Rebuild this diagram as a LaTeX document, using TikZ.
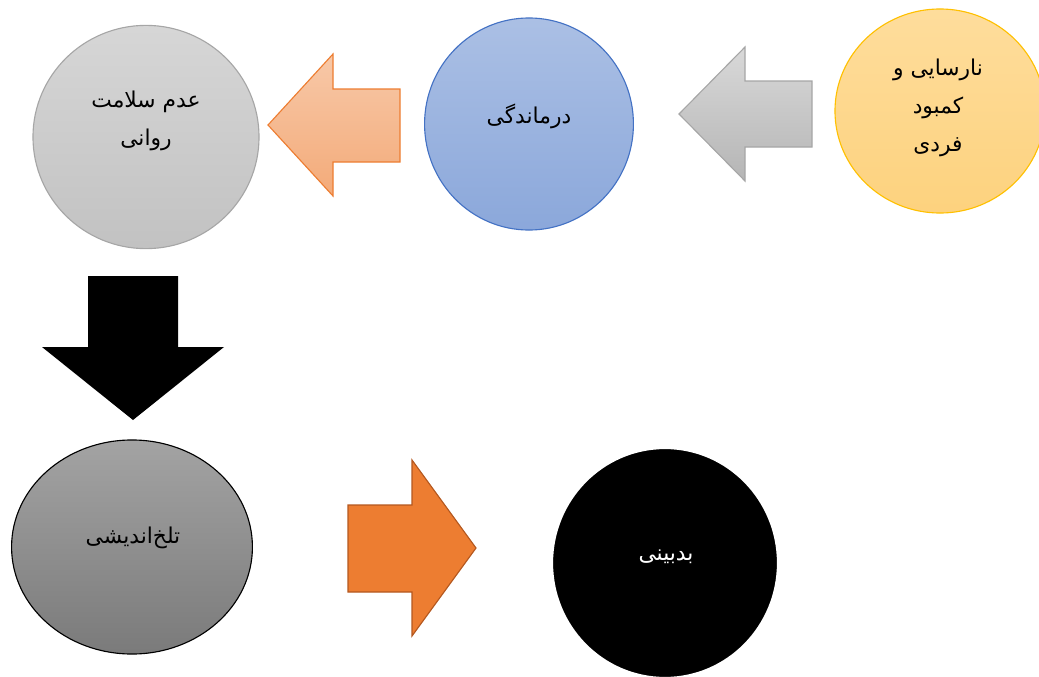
\documentclass[tikz,border=0pt]{standalone}
\usepackage{fontspec}
\newfontfamily\arabicfont[Script=Arabic]{DejaVu Sans}
\TeXXeTstate=1
\usetikzlibrary{shapes.geometric}

\definecolor{khakestari}{HTML}{A6A6A6}
\definecolor{abi}{HTML}{4472C4}
\definecolor{zard}{HTML}{FFC000}
\definecolor{zardbala}{HTML}{FEDD9C}
\definecolor{zardpayin}{HTML}{FDD27E}
\definecolor{narenji}{HTML}{ED7D31}
\definecolor{narenjitire}{HTML}{B4581F}

\begin{document}
\begin{tikzpicture}[x=0.025cm, y=-0.025cm,
  dayere/.style={ellipse, draw, line width=0.8pt, inner sep=0pt},
  matn/.style={font=\arabicfont\fontsize{15.5}{27}\selectfont, align=center, inner sep=0pt},
  felesh/.style={line width=0.8pt, line join=miter}]
  \useasboundingbox (0,0) rectangle (1039,677);

  % Dayere-ha
  \node[dayere, draw=khakestari, top color=black!16, bottom color=black!24,
        minimum width=5.65cm, minimum height=5.58cm] (salamat) at (146,137) {};
  \node[dayere, draw=abi, top color=abi!45, bottom color=abi!62,
        minimum width=5.22cm, minimum height=5.3cm] (darmandegi) at (529,124) {};
  \node[dayere, draw=zard, top color=zardbala, bottom color=zardpayin,
        minimum width=5.25cm, minimum height=5.1cm] (narasayi) at (940,111) {};
  \node[dayere, draw=black, top color=black!36, bottom color=black!52,
        minimum width=6.02cm, minimum height=5.35cm] (talkh) at (132,547) {};
  \node[dayere, draw=white, fill=black, line width=1.6pt,
        minimum width=5.65cm, minimum height=5.75cm] (badbini) at (665,563) {};

  % Matn-ha
  \node[matn] (t-salamat) at (146,121) {\beginR عدم سلامت\endR\\\beginR روانی\endR};
  \node[matn] (t-darmandegi) at (529,116) {\beginR درماندگی\endR};
  \node[matn] (t-narasayi) at (938,108) {\beginR نارسایی و\endR\\\beginR کمبود\endR\\\beginR فردی\endR};
  \node[matn] (t-talkh) at (133,538) {\beginR تلخ‌اندیشی\endR};
  \node[matn, text=white] (t-badbini) at (666,557) {\beginR بدبینی\endR};

  % Felesh-ha
  \draw[felesh, draw=narenji, top color=narenji!42, bottom color=narenji!65]
    (268,125) -- (333,54) -- (333,89) -- (400,89) -- (400,162) -- (333,162) -- (333,196) -- cycle;
  \draw[felesh, draw=khakestari, top color=black!15, bottom color=black!29]
    (679,114) -- (745,47) -- (745,81) -- (812,81) -- (812,147) -- (745,147) -- (745,181) -- cycle;
  \fill (88,276) -- (178,276) -- (178,347) -- (224,347) -- (133,420) -- (42,347) -- (88,347) -- cycle;
  \draw[felesh, draw=narenjitire, fill=narenji]
    (348,505) -- (412,505) -- (412,460) -- (476,548) -- (412,636) -- (412,592) -- (348,592) -- cycle;
\end{tikzpicture}
\end{document}
